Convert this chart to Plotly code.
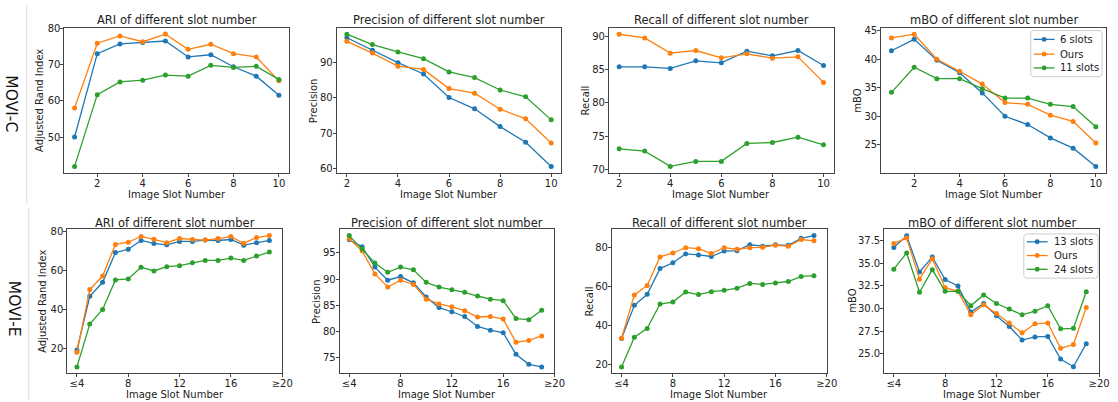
import plotly.graph_objects as go
from plotly.subplots import make_subplots

# ---------------- data ----------------
# MOVI-C (x = 1..10)
c_x_ari = [1, 2, 3, 4, 5, 6, 7, 8, 9, 10]
c_x_pr = [2, 3, 4, 5, 6, 7, 8, 9, 10]
c_x_mbo = [1, 2, 3, 4, 5, 6, 7, 8, 9, 10]

c_ari_6 = [50.0, 73.0, 75.7, 76.1, 76.5, 72.1, 72.7, 69.4, 66.8, 61.5]
c_ari_ours = [58.0, 75.9, 77.9, 76.3, 78.4, 74.2, 75.6, 73.0, 72.1, 65.5]
c_ari_11 = [41.9, 61.7, 65.2, 65.7, 67.1, 66.8, 69.8, 69.2, 69.5, 65.9]

c_prec_6 = [96.9, 93.4, 89.9, 86.7, 80.1, 76.9, 71.9, 67.5, 60.7]
c_prec_ours = [95.9, 92.6, 88.9, 88.0, 82.6, 81.3, 76.8, 74.1, 67.3]
c_prec_11 = [97.9, 95.0, 92.9, 91.0, 87.3, 85.7, 82.2, 80.3, 73.8]

c_rec_6 = [85.45, 85.45, 85.2, 86.35, 86.05, 87.8, 87.1, 87.9, 85.65]
c_rec_ours = [90.35, 89.8, 87.5, 87.9, 86.8, 87.4, 86.75, 86.95, 83.1]
c_rec_11 = [73.1, 72.75, 70.45, 71.2, 71.2, 73.9, 74.05, 74.85, 73.7]

c_mbo_6 = [41.5, 43.5, 39.85, 37.65, 34.1, 30.0, 28.55, 26.2, 24.4, 21.2]
c_mbo_ours = [43.75, 44.4, 40.0, 37.9, 35.65, 32.4, 32.1, 30.2, 29.1, 25.3]
c_mbo_11 = [34.2, 38.6, 36.6, 36.6, 34.85, 33.2, 33.2, 32.1, 31.7, 28.15]

# MOVI-E (x = 4..19, shown as <=4 ... >=20)
e_x = [4, 5, 6, 7, 8, 9, 10, 11, 12, 13, 14, 15, 16, 17, 18, 19]
e_tickvals = [4, 8, 12, 16, 20]
e_ticktext = ["≤4", "8", "12", "16", "≥20"]

e_ari_13 = [19.5, 46.9, 54.1, 69.3, 71.0, 75.5, 74.0, 73.3, 75.0, 75.0, 75.7, 75.5, 76.0, 73.1, 74.3, 75.5]
e_ari_ours = [18.3, 50.4, 57.3, 73.5, 74.6, 77.6, 76.1, 74.4, 76.5, 76.0, 75.7, 76.5, 77.5, 74.1, 77.0, 78.0]
e_ari_24 = [10.8, 32.7, 40.2, 55.3, 55.8, 61.8, 59.9, 62.1, 62.6, 64.1, 65.3, 65.3, 66.5, 65.3, 67.6, 69.6]

e_prec_13 = [97.5, 96.2, 92.3, 89.8, 90.5, 89.3, 86.6, 84.6, 83.8, 82.9, 81.0, 80.3, 79.8, 75.7, 73.8, 73.3]
e_prec_ours = [97.7, 95.4, 91.0, 88.5, 89.8, 89.0, 86.2, 85.3, 84.75, 84.0, 82.8, 82.9, 82.4, 78.0, 78.35, 79.2]
e_prec_24 = [98.3, 95.8, 93.1, 91.3, 92.3, 91.8, 89.4, 88.5, 88.0, 87.5, 86.8, 86.2, 85.9, 82.5, 82.3, 84.1]

e_rec_13 = [33.5, 50.5, 56.2, 69.3, 72.3, 76.8, 76.3, 75.5, 78.3, 78.5, 81.5, 80.8, 81.5, 81.2, 84.8, 86.2]
e_rec_ours = [33.7, 55.8, 60.7, 75.3, 77.3, 80.0, 79.5, 77.0, 80.0, 79.2, 80.0, 80.2, 81.3, 80.7, 84.2, 83.5]
e_rec_24 = [19.0, 34.2, 38.7, 51.2, 52.2, 57.3, 56.0, 57.5, 58.2, 59.3, 61.7, 61.2, 62.0, 62.7, 65.3, 65.7]

e_mbo_13 = [36.75, 38.05, 34.05, 35.7, 33.2, 32.5, 29.6, 30.55, 29.2, 28.0, 26.5, 26.85, 26.9, 24.4, 23.55, 26.1]
e_mbo_ours = [37.2, 37.8, 33.25, 35.5, 32.3, 31.9, 29.3, 30.4, 29.45, 28.4, 27.3, 28.3, 28.4, 25.6, 26.0, 30.1]
e_mbo_24 = [34.35, 36.15, 31.8, 34.3, 31.9, 31.9, 30.3, 31.5, 30.55, 29.95, 29.3, 29.7, 30.3, 27.75, 27.8, 31.85]

c_names = ["6 slots", "Ours", "11 slots"]
e_names = ["13 slots", "Ours", "24 slots"]
titles = ["ARI of different slot number", "Precision of different slot number",
          "Recall of different slot number", "mBO of different slot number"]
ylabels = ["Adjusted Rand Index", "Precision", "Recall", "mBO"]
xlabel = "Image Slot Number"
row_labels = ["MOVI-C", "MOVI-E"]

colors = ["#1f77b4", "#ff7f0e", "#2ca02c"]
W, H = 1118, 402
FONT = "DejaVu Sans"
TXT = "#222222"

fig = make_subplots(rows=2, cols=4)

panels = [
    (1, 1, c_x_ari, [c_ari_6, c_ari_ours, c_ari_11], c_names),
    (1, 2, c_x_pr, [c_prec_6, c_prec_ours, c_prec_11], c_names),
    (1, 3, c_x_pr, [c_rec_6, c_rec_ours, c_rec_11], c_names),
    (1, 4, c_x_mbo, [c_mbo_6, c_mbo_ours, c_mbo_11], c_names),
    (2, 1, e_x, [e_ari_13, e_ari_ours, e_ari_24], e_names),
    (2, 2, e_x, [e_prec_13, e_prec_ours, e_prec_24], e_names),
    (2, 3, e_x, [e_rec_13, e_rec_ours, e_rec_24], e_names),
    (2, 4, e_x, [e_mbo_13, e_mbo_ours, e_mbo_24], e_names),
]

for r, c, xs, series, names in panels:
    for ys, nm, col in zip(series, names, colors):
        fig.add_trace(go.Scatter(
            x=xs, y=ys, name=nm, mode="lines+markers",
            line=dict(color=col, width=1.3),
            marker=dict(color=col, size=5),
            showlegend=False,
        ), row=r, col=c)

# pixel boxes of the axes
xdom_px = [[(65, 292), (340, 567), (615, 842), (890, 1117)],
           [(68, 285), (343, 560), (618, 835), (893, 1110)]]
ydom_px = [(23, 171), (228, 375)]
title_y = [15, 222]
xtitle_y = [193, 396]
ytitle_x = [[40, 316, 591, 866], [43, 319, 595, 861]]

yranges = [[(40.07, 80.2), (58.84, 99.76), (69.45, 91.35), (20.04, 45.56)],
           [(7.44, 81.36), (72.05, 99.55), (15.64, 89.56), (22.8, 38.8)]]
ydticks = [[10, 10, 5, 5], [20, 5, 20, 2.5]]
xranges_c = [(0.55, 10.45), (1.6, 10.4), (1.6, 10.4), (0.55, 10.45)]

axis_common = dict(showline=True, linecolor="#444", linewidth=1, mirror=True,
                   ticks="outside", ticklen=3, tickcolor="#444", showgrid=False,
                   zeroline=False, tickfont=dict(family=FONT, size=10, color=TXT))


def px(x):
    return x / W


def py(y):
    return 1 - y / H


annotations = []
for r in range(2):
    for c in range(4):
        idx = r * 4 + c + 1
        x0, x1 = xdom_px[r][c]
        yt, yb = ydom_px[r]
        xa = dict(axis_common, domain=[px(x0), px(x1)], ticklabelstandoff=-2)
        if r == 0:
            xa.update(range=list(xranges_c[c]), tickmode="linear", tick0=2, dtick=2)
        else:
            xa.update(range=[3.25, 20.0], tickmode="array", tickvals=e_tickvals, ticktext=e_ticktext)
        ya = dict(axis_common, domain=[py(yb), py(yt)], range=list(yranges[r][c]),
                  tickmode="linear", dtick=ydticks[r][c], tick0=0, ticklabelstandoff=-2)
        if r == 1 and c == 3:
            ya.update(tickformat=".1f")
        fig.update_layout(**{f"xaxis{'' if idx == 1 else idx}": xa,
                             f"yaxis{'' if idx == 1 else idx}": ya})
        annotations.append(dict(
            text=titles[c], x=px((x0 + x1) / 2), y=py(title_y[r]),
            xref="paper", yref="paper", xanchor="center", yanchor="middle",
            showarrow=False, borderpad=0, font=dict(family=FONT, size=11.5, color=TXT)))
        annotations.append(dict(
            text=xlabel, x=px((x0 + x1) / 2), y=py(xtitle_y[r]),
            xref="paper", yref="paper", xanchor="center", yanchor="middle",
            showarrow=False, borderpad=0, font=dict(family=FONT, size=10, color=TXT)))
        annotations.append(dict(
            text=ylabels[c], x=px(ytitle_x[r][c]), y=py((yt + yb) / 2),
            xref="paper", yref="paper", xanchor="center", yanchor="middle", textangle=-90,
            showarrow=False, borderpad=0, font=dict(family=FONT, size=10, color=TXT)))

annotations.append(dict(text=row_labels[0], x=px(11), y=py(101), xref="paper", yref="paper",
                        textangle=90, showarrow=False, xanchor="center", yanchor="middle",
                        font=dict(family=FONT, size=15.5, color="#111")))
annotations.append(dict(text=row_labels[1], x=px(15), y=py(309), xref="paper", yref="paper",
                        textangle=90, showarrow=False, xanchor="center", yanchor="middle",
                        font=dict(family=FONT, size=15.5, color="#111")))

shapes = [
    dict(type="line", xref="paper", yref="paper", x0=px(27), x1=px(27), y0=1, y1=py(203),
         line=dict(color="#dddddd", width=1)),
    dict(type="line", xref="paper", yref="paper", x0=px(29), x1=px(29), y0=py(207), y1=0,
         line=dict(color="#dddddd", width=1)),
]


def rounded_box(x0, y0, x1, y1, rr=3):
    X0, X1 = px(x0), px(x1)
    Y0, Y1 = py(y0), py(y1)
    rx, ry = rr / W, rr / H
    return (f"M {X0 + rx},{Y0} L {X1 - rx},{Y0} Q {X1},{Y0} {X1},{Y0 - ry} "
            f"L {X1},{Y1 + ry} Q {X1},{Y1} {X1 - rx},{Y1} L {X0 + rx},{Y1} "
            f"Q {X0},{Y1} {X0},{Y1 + ry} L {X0},{Y0 - ry} Q {X0},{Y0} {X0 + rx},{Y0} Z")


# legend boxes (decoration): box, line sample x-range, marker x, text x, entry y's
legends = [
    dict(box=(1041, 26, 1113, 73), lx=(1044, 1065), mx=1054.5, tx=1070, ys=[35, 50, 64], names=c_names),
    dict(box=(1034, 233, 1109, 278), lx=(1037, 1058), mx=1047.5, tx=1063, ys=[241, 255, 269], names=e_names),
]
for lg in legends:
    bx0, by0, bx1, by1 = lg["box"]
    shapes.append(dict(type="path", xref="paper", yref="paper", path=rounded_box(bx0, by0, bx1, by1),
                       fillcolor="rgba(255,255,255,0.85)", line=dict(color="#cccccc", width=1)))
    for yy, nm, col in zip(lg["ys"], lg["names"], colors):
        shapes.append(dict(type="line", xref="paper", yref="paper",
                           x0=px(lg["lx"][0]), x1=px(lg["lx"][1]), y0=py(yy), y1=py(yy),
                           line=dict(color=col, width=1.3)))
        shapes.append(dict(type="circle", xref="paper", yref="paper",
                           x0=px(lg["mx"] - 2.5), x1=px(lg["mx"] + 2.5),
                           y0=py(yy + 2.5), y1=py(yy - 2.5),
                           fillcolor=col, line=dict(color=col, width=0)))
        annotations.append(dict(text=nm, x=px(lg["tx"]), y=py(yy), xref="paper", yref="paper",
                                xanchor="left", yanchor="middle", showarrow=False, borderpad=0,
                                font=dict(family=FONT, size=10, color=TXT)))

fig.update_layout(
    width=W, height=H, margin=dict(l=0, r=0, t=0, b=0),
    paper_bgcolor="white", plot_bgcolor="white",
    font=dict(family=FONT, size=10, color=TXT),
    annotations=annotations, shapes=shapes,
    showlegend=False,
)

fig.write_html("out.html", config={"displayModeBar": False},
               post_script="document.body.style.margin='0px';")
